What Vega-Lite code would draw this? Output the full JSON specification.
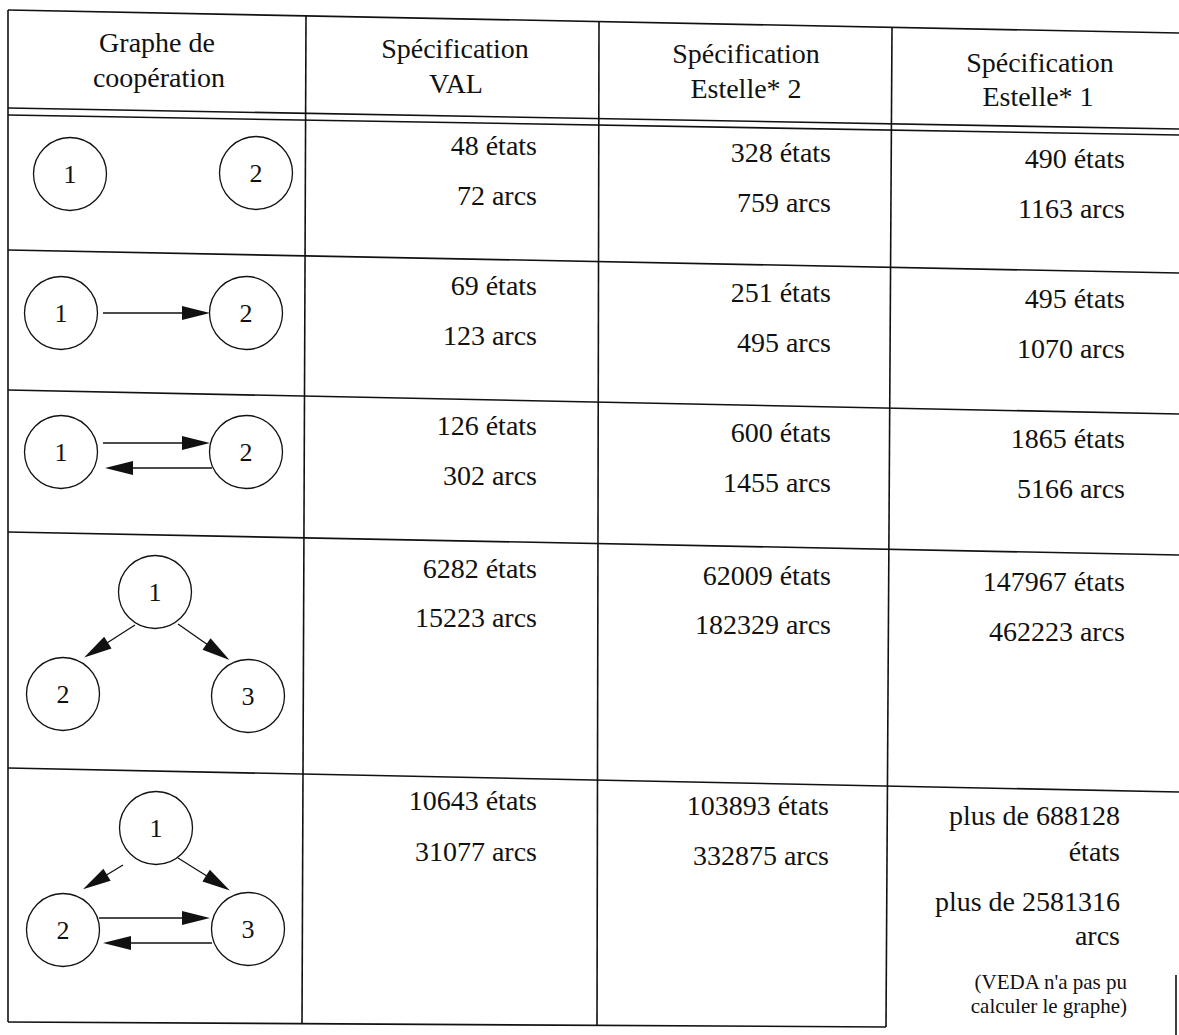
{
  "$schema": "https://vega.github.io/schema/vega-lite/v6.json",
  "width": 1179,
  "height": 1035,
  "padding": 0,
  "autosize": {"type": "none"},
  "background": "white",
  "config": {"view": {"stroke": null}},
  "datasets": {
    "tablelines": [
      {"name": "top", "x": 8, "y": 10, "x2": 1179, "y2": 33},
      {"name": "headA", "x": 8, "y": 108, "x2": 1179, "y2": 129},
      {"name": "headB", "x": 8, "y": 115, "x2": 1179, "y2": 135},
      {"name": "row1", "x": 8, "y": 250, "x2": 1179, "y2": 273},
      {"name": "row2", "x": 8, "y": 390, "x2": 1179, "y2": 414},
      {"name": "row3", "x": 8, "y": 532, "x2": 1179, "y2": 555},
      {"name": "row4", "x": 8, "y": 768, "x2": 1179, "y2": 792},
      {"name": "bottom", "x": 8, "y": 1022, "x2": 886, "y2": 1027},
      {"name": "left", "x": 8, "y": 10, "x2": 8, "y2": 1022},
      {"name": "col1", "x": 306, "y": 16, "x2": 302, "y2": 1024},
      {"name": "col2", "x": 599, "y": 22, "x2": 597, "y2": 1025},
      {"name": "col3", "x": 892, "y": 28, "x2": 886, "y2": 1027},
      {"name": "right", "x": 1176, "y": 975, "x2": 1176, "y2": 1035}
    ],
    "arrowlines": [
      {"graph": 2, "from": 1, "to": 2, "x": 103, "y": 313, "x2": 200, "y2": 313},
      {"graph": 3, "from": 1, "to": 2, "x": 103, "y": 443, "x2": 200, "y2": 443},
      {"graph": 3, "from": 2, "to": 1, "x": 212, "y": 468, "x2": 115, "y2": 468},
      {"graph": 4, "from": 1, "to": 2, "x": 135, "y": 625, "x2": 96, "y2": 650},
      {"graph": 4, "from": 1, "to": 3, "x": 178, "y": 624, "x2": 218, "y2": 652},
      {"graph": 5, "from": 1, "to": 2, "x": 123, "y": 865, "x2": 95, "y2": 882},
      {"graph": 5, "from": 1, "to": 3, "x": 178, "y": 858, "x2": 218, "y2": 883},
      {"graph": 5, "from": 2, "to": 3, "x": 99, "y": 918, "x2": 200, "y2": 918},
      {"graph": 5, "from": 3, "to": 2, "x": 212, "y": 943, "x2": 113, "y2": 943}
    ],
    "arrowheads": [
      {"graph": 2, "from": 1, "to": 2, "x": 196, "y": 313, "angle": 0},
      {"graph": 3, "from": 1, "to": 2, "x": 196, "y": 443, "angle": 0},
      {"graph": 3, "from": 2, "to": 1, "x": 119, "y": 468, "angle": 180},
      {"graph": 4, "from": 1, "to": 2, "x": 96, "y": 650, "angle": 148},
      {"graph": 4, "from": 1, "to": 3, "x": 218, "y": 652, "angle": 35},
      {"graph": 5, "from": 1, "to": 2, "x": 95, "y": 882, "angle": 149},
      {"graph": 5, "from": 1, "to": 3, "x": 218, "y": 883, "angle": 32},
      {"graph": 5, "from": 2, "to": 3, "x": 196, "y": 918, "angle": 0},
      {"graph": 5, "from": 3, "to": 2, "x": 117, "y": 943, "angle": 180}
    ],
    "nodes": [
      {"graph": 1, "node": "1", "x": 70, "y": 174},
      {"graph": 1, "node": "2", "x": 256, "y": 173},
      {"graph": 2, "node": "1", "x": 61, "y": 313},
      {"graph": 2, "node": "2", "x": 246, "y": 313},
      {"graph": 3, "node": "1", "x": 61, "y": 452},
      {"graph": 3, "node": "2", "x": 246, "y": 452},
      {"graph": 4, "node": "1", "x": 155, "y": 592},
      {"graph": 4, "node": "2", "x": 63, "y": 694},
      {"graph": 4, "node": "3", "x": 248, "y": 696},
      {"graph": 5, "node": "1", "x": 156, "y": 828},
      {"graph": 5, "node": "2", "x": 63, "y": 930},
      {"graph": 5, "node": "3", "x": 248, "y": 929}
    ],
    "header": [
      {"text": "Graphe de", "x": 157, "y": 52},
      {"text": "coopération", "x": 159, "y": 87},
      {"text": "Spécification", "x": 455, "y": 58},
      {"text": "VAL", "x": 456, "y": 93},
      {"text": "Spécification", "x": 746, "y": 63},
      {"text": "Estelle* 2", "x": 746, "y": 98},
      {"text": "Spécification", "x": 1040, "y": 72},
      {"text": "Estelle* 1", "x": 1038, "y": 106}
    ],
    "cells": [
      {"spec": "VAL", "graph": 1, "text": "48 états", "x": 537, "y": 155},
      {"spec": "VAL", "graph": 1, "text": "72 arcs", "x": 537, "y": 205},
      {"spec": "VAL", "graph": 2, "text": "69 états", "x": 537, "y": 295},
      {"spec": "VAL", "graph": 2, "text": "123 arcs", "x": 537, "y": 345},
      {"spec": "VAL", "graph": 3, "text": "126 états", "x": 537, "y": 435},
      {"spec": "VAL", "graph": 3, "text": "302 arcs", "x": 537, "y": 485},
      {"spec": "VAL", "graph": 4, "text": "6282 états", "x": 537, "y": 578},
      {"spec": "VAL", "graph": 4, "text": "15223 arcs", "x": 537, "y": 627},
      {"spec": "VAL", "graph": 5, "text": "10643 états", "x": 537, "y": 810},
      {"spec": "VAL", "graph": 5, "text": "31077 arcs", "x": 537, "y": 861},
      {"spec": "Estelle* 2", "graph": 1, "text": "328 états", "x": 831, "y": 162},
      {"spec": "Estelle* 2", "graph": 1, "text": "759 arcs", "x": 831, "y": 212},
      {"spec": "Estelle* 2", "graph": 2, "text": "251 états", "x": 831, "y": 302},
      {"spec": "Estelle* 2", "graph": 2, "text": "495 arcs", "x": 831, "y": 352},
      {"spec": "Estelle* 2", "graph": 3, "text": "600 états", "x": 831, "y": 442},
      {"spec": "Estelle* 2", "graph": 3, "text": "1455 arcs", "x": 831, "y": 492},
      {"spec": "Estelle* 2", "graph": 4, "text": "62009 états", "x": 831, "y": 585},
      {"spec": "Estelle* 2", "graph": 4, "text": "182329 arcs", "x": 831, "y": 634},
      {"spec": "Estelle* 2", "graph": 5, "text": "103893 états", "x": 829, "y": 815},
      {"spec": "Estelle* 2", "graph": 5, "text": "332875 arcs", "x": 829, "y": 865},
      {"spec": "Estelle* 1", "graph": 1, "text": "490 états", "x": 1125, "y": 168},
      {"spec": "Estelle* 1", "graph": 1, "text": "1163 arcs", "x": 1125, "y": 218},
      {"spec": "Estelle* 1", "graph": 2, "text": "495 états", "x": 1125, "y": 308},
      {"spec": "Estelle* 1", "graph": 2, "text": "1070 arcs", "x": 1125, "y": 358},
      {"spec": "Estelle* 1", "graph": 3, "text": "1865 états", "x": 1125, "y": 448},
      {"spec": "Estelle* 1", "graph": 3, "text": "5166 arcs", "x": 1125, "y": 498},
      {"spec": "Estelle* 1", "graph": 4, "text": "147967 états", "x": 1125, "y": 591},
      {"spec": "Estelle* 1", "graph": 4, "text": "462223 arcs", "x": 1125, "y": 641},
      {"spec": "Estelle* 1", "graph": 5, "text": "plus de 688128", "x": 1120, "y": 825},
      {"spec": "Estelle* 1", "graph": 5, "text": "états", "x": 1120, "y": 861},
      {"spec": "Estelle* 1", "graph": 5, "text": "plus de 2581316", "x": 1120, "y": 911},
      {"spec": "Estelle* 1", "graph": 5, "text": "arcs", "x": 1120, "y": 945}
    ],
    "notes": [
      {"text": "(VEDA n'a pas pu", "x": 1127, "y": 989},
      {"text": "calculer le graphe)", "x": 1127, "y": 1013}
    ]
  },
  "layer": [
    {
      "data": {"name": "tablelines"},
      "mark": {"type": "rule", "color": "#111", "strokeWidth": 1.6},
      "encoding": {
        "x": {"field": "x", "type": "quantitative", "scale": {"domain": [0, 1179], "nice": false, "zero": false}, "axis": null},
        "y": {"field": "y", "type": "quantitative", "scale": {"domain": [0, 1035], "reverse": true, "nice": false, "zero": false}, "axis": null},
        "x2": {"field": "x2"},
        "y2": {"field": "y2"}
      }
    },
    {
      "data": {"name": "arrowlines"},
      "mark": {"type": "rule", "color": "#111", "strokeWidth": 1.3},
      "encoding": {
        "x": {"field": "x", "type": "quantitative", "scale": {"domain": [0, 1179], "nice": false, "zero": false}, "axis": null},
        "y": {"field": "y", "type": "quantitative", "scale": {"domain": [0, 1035], "reverse": true, "nice": false, "zero": false}, "axis": null},
        "x2": {"field": "x2"},
        "y2": {"field": "y2"}
      }
    },
    {
      "data": {"name": "arrowheads"},
      "mark": {"type": "point", "shape": "M-1,-0.5L1,0L-1,0.5Z", "filled": true, "color": "#111", "opacity": 1, "size": 784},
      "encoding": {
        "x": {"field": "x", "type": "quantitative", "scale": {"domain": [0, 1179], "nice": false, "zero": false}, "axis": null},
        "y": {"field": "y", "type": "quantitative", "scale": {"domain": [0, 1035], "reverse": true, "nice": false, "zero": false}, "axis": null},
        "angle": {"field": "angle", "type": "quantitative", "scale": null}
      }
    },
    {
      "data": {"name": "nodes"},
      "mark": {"type": "point", "shape": "circle", "filled": false, "color": "#111", "opacity": 1, "strokeWidth": 1.3, "size": 5329},
      "encoding": {
        "x": {"field": "x", "type": "quantitative", "scale": {"domain": [0, 1179], "nice": false, "zero": false}, "axis": null},
        "y": {"field": "y", "type": "quantitative", "scale": {"domain": [0, 1035], "reverse": true, "nice": false, "zero": false}, "axis": null}
      }
    },
    {
      "data": {"name": "nodes"},
      "mark": {"type": "text", "font": "Liberation Serif", "fontSize": 26, "color": "#111", "align": "center", "baseline": "middle", "dy": 1},
      "encoding": {
        "x": {"field": "x", "type": "quantitative", "scale": {"domain": [0, 1179], "nice": false, "zero": false}, "axis": null},
        "y": {"field": "y", "type": "quantitative", "scale": {"domain": [0, 1035], "reverse": true, "nice": false, "zero": false}, "axis": null},
        "text": {"field": "node"}
      }
    },
    {
      "data": {"name": "header"},
      "mark": {"type": "text", "font": "Liberation Serif", "fontSize": 28, "color": "#111", "align": "center", "baseline": "alphabetic"},
      "encoding": {
        "x": {"field": "x", "type": "quantitative", "scale": {"domain": [0, 1179], "nice": false, "zero": false}, "axis": null},
        "y": {"field": "y", "type": "quantitative", "scale": {"domain": [0, 1035], "reverse": true, "nice": false, "zero": false}, "axis": null},
        "text": {"field": "text"}
      }
    },
    {
      "data": {"name": "cells"},
      "mark": {"type": "text", "font": "Liberation Serif", "fontSize": 28, "color": "#111", "align": "right", "baseline": "alphabetic"},
      "encoding": {
        "x": {"field": "x", "type": "quantitative", "scale": {"domain": [0, 1179], "nice": false, "zero": false}, "axis": null},
        "y": {"field": "y", "type": "quantitative", "scale": {"domain": [0, 1035], "reverse": true, "nice": false, "zero": false}, "axis": null},
        "text": {"field": "text"}
      }
    },
    {
      "data": {"name": "notes"},
      "mark": {"type": "text", "font": "Liberation Serif", "fontSize": 21, "color": "#111", "align": "right", "baseline": "alphabetic"},
      "encoding": {
        "x": {"field": "x", "type": "quantitative", "scale": {"domain": [0, 1179], "nice": false, "zero": false}, "axis": null},
        "y": {"field": "y", "type": "quantitative", "scale": {"domain": [0, 1035], "reverse": true, "nice": false, "zero": false}, "axis": null},
        "text": {"field": "text"}
      }
    }
  ]
}
